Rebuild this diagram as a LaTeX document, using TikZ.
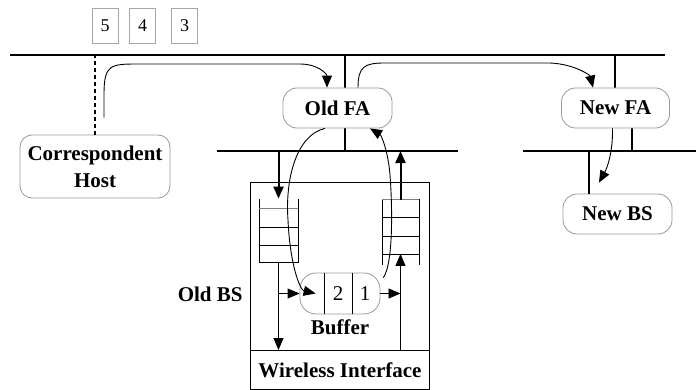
\documentclass[tikz,border=0pt]{standalone}
\usepackage{fontspec}
\setmainfont{Liberation Serif}
\usetikzlibrary{arrows.meta,positioning,calc}
\tikzset{
  hostbox/.style={draw=gray!80, fill=white, rounded corners=7pt, align=center,
    inner sep=0pt, font=\fontsize{10.5}{13.5}\selectfont\bfseries},
  pktbox/.style={draw=gray!70, minimum width=13pt, minimum height=17.5pt,
    inner sep=0pt, font=\fontsize{9}{10}\selectfont},
  bus/.style={line width=1pt},
  flow/.style={-{Triangle[length=6pt,width=5pt]}, line width=0.45pt},
  fatflow/.style={-{Triangle[length=6pt,width=5pt]}, line width=1pt},
  slot/.style={minimum width=19.5pt, minimum height=31.5pt, inner sep=0pt}
}
\begin{document}
\begin{tikzpicture}[x=0.5pt,y=-0.5pt]
  \useasboundingbox (0,0) rectangle (696,390);

  % Networks
  \coordinate (topbus) at (10,55);
  \coordinate (midbus) at (217,151);
  \draw[bus] (topbus) -- (665,55);
  \draw[bus] (midbus) -- (458,151);
  \draw[bus] (523,151) -- (696,151);
  \draw[line width=0.8pt] (345,55) -- (345,151);
  \draw[line width=0.8pt] (615,55) -- (615,90);
  \draw[line width=0.8pt] (632,126) -- (632,151);

  % Packets in transit
  \node[pktbox] (p5) at (105,25.5) {5};
  \node[pktbox] (p4) at (142.5,25.5) {4};
  \node[pktbox] (p3) at (184.5,25.5) {3};

  % Hosts and agents
  \node[hostbox, rounded corners=6pt, minimum width=75pt, minimum height=31.5pt] (ch) at (95,166.5) {Correspondent\\Host};
  \node[hostbox, minimum width=54.5pt, minimum height=20pt] (oldfa) at (337.5,108) {Old FA};
  \node[hostbox, minimum width=54pt, minimum height=20pt] (newfa) at (615.5,108) {New FA};
  \node[hostbox, minimum width=54.5pt, minimum height=20pt] (newbs) at (617.5,214) {New BS};

  \draw[bus, dashed, dash pattern=on 2pt off 1.5pt] (ch.north) -- (ch.north |- topbus);
  \draw[line width=0.8pt] ([xshift=-14.25pt]newbs.north) -- ++(0,-43);

  % Old base station
  \node[draw, line width=0.5pt, minimum width=89.5pt, minimum height=103.5pt, anchor=north west] (oldbs) at (250,182) {};
  \node[draw, line width=0.5pt, minimum width=89.5pt, minimum height=19.5pt, anchor=north west,
    font=\fontsize{10.5}{12}\selectfont\bfseries] (wif) at (250,350) {Wireless Interface};
  \node[anchor=east, inner sep=0pt, font=\fontsize{10.5}{12}\selectfont\bfseries] (bslabel) at (243,294) {Old BS};

  % Queues
  \node[slot] (lq) at (278.5,230.5) {};
  \node[slot] (rq) at (400.5,232) {};
  \draw (259,199) -- (259,262) -- (298,262) -- (298,199);
  \draw[gray] (259,208) -- (298,208);
  \foreach \y in {227,245} \draw (259,\y) -- (298,\y);
  \draw (382,199) -- (382,265);
  \draw (419,199) -- (419,265);
  \draw[gray] (382,199) -- (419,199);
  \foreach \y in {217,236,254} \draw (382,\y) -- (419,\y);

  % Buffer
  \node[draw=gray!80, rounded corners=8pt, minimum width=40pt, minimum height=20.5pt, inner sep=0pt] (buffer) at (340,293.5) {};
  \draw (324,273) -- (324,314);
  \draw (352,273) -- (352,314);
  \node[font=\fontsize{10.5}{12}\selectfont] (b2) at (338,293.5) {2};
  \node[font=\fontsize{10.5}{12}\selectfont] (b1) at (365,293.5) {1};
  \node[font=\fontsize{10.5}{12}\selectfont\bfseries] (blabel) at (340,327) {Buffer};

  % Data flows inside the base station
  \draw[fatflow] (lq.north |- midbus) -- (lq.north);
  \draw[fatflow] (rq.north) -- (rq.north |- midbus);
  \draw[flow] (lq.south) -- (lq.south |- wif.north);
  \draw[flow] (lq.south |- buffer.west) -- (buffer.west);
  \draw[flow] (buffer.east) -- (buffer.east -| rq.south);
  \draw[flow] (rq.south |- wif.north) -- ([yshift=5pt]rq.south);

  % Routing paths
  \draw[flow] ([xshift=4.5pt,yshift=8.5pt]ch.north) -- (104,95)
    .. controls (104,64) and (110,64) .. (140,64) -- (300,64)
    .. controls (318,64) and (327,74) .. ([xshift=-5.25pt]oldfa.north);
  \draw[flow] ([xshift=10.25pt]oldfa.north) .. controls (358,66) and (365,63) .. (385,63)
    -- (550,63) .. controls (574,64) and (590,75) .. ([xshift=-11.25pt]newfa.north);
  \draw[flow] ([xshift=-1.5pt]newfa.south) .. controls (613,155) and (606,170) .. ([xshift=-9.25pt,yshift=5.5pt]newbs.north);
  \draw[flow] ([xshift=-6.25pt]oldfa.south) .. controls (296,135) and (285,180) .. (288,220)
    .. controls (290,265) and (300,290) .. ([xshift=8pt]buffer.west);
  \draw[flow] ([xshift=1.5pt,yshift=-2.5pt]buffer.north east) .. controls (394,262) and (392,200) .. (390,175)
    .. controls (388,150) and (381,135) .. ([xshift=16.25pt]oldfa.south);
\end{tikzpicture}
\end{document}
